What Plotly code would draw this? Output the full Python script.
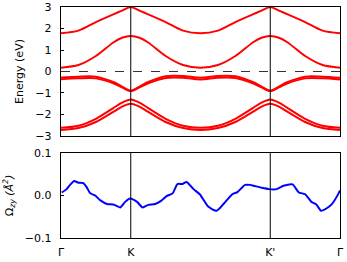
import plotly.graph_objects as go

# ---- data ----
k_band = [0, 0.25, 0.5, 0.75, 0.875, 1, 1.125, 1.25, 1.5, 1.75, 2,
          2.25, 2.5, 2.75, 2.875, 3, 3.125, 3.25, 3.5, 3.75, 4]

band1 = [1.78, 1.9, 2.3, 2.66, 2.83, 3.0, 2.83, 2.66, 2.3, 1.9, 1.78,
         1.9, 2.3, 2.66, 2.83, 3.0, 2.83, 2.66, 2.3, 1.9, 1.78]
band2 = [0.18, 0.3, 0.72, 1.35, 1.57, 1.65, 1.57, 1.35, 0.72, 0.3, 0.18,
         0.3, 0.72, 1.35, 1.57, 1.65, 1.57, 1.35, 0.72, 0.3, 0.18]
band3a = [-0.28, -0.24, -0.24, -0.49, -0.70, -0.89, -0.70, -0.49, -0.22, -0.21, -0.29,
          -0.21, -0.22, -0.49, -0.70, -0.89, -0.70, -0.49, -0.24, -0.24, -0.29]
band3b = [-0.36, -0.32, -0.32, -0.55, -0.74, -0.91, -0.74, -0.55, -0.30, -0.29, -0.37,
          -0.29, -0.30, -0.55, -0.74, -0.91, -0.74, -0.55, -0.32, -0.32, -0.37]
band4 = [-2.62, -2.52, -2.2, -1.7, -1.45, -1.3, -1.45, -1.7, -2.2, -2.52, -2.62,
         -2.52, -2.2, -1.7, -1.45, -1.3, -1.45, -1.7, -2.2, -2.52, -2.62]
band5 = [-2.72, -2.63, -2.35, -1.88, -1.63, -1.5, -1.63, -1.88, -2.35, -2.63, -2.72,
         -2.63, -2.35, -1.88, -1.63, -1.5, -1.63, -1.88, -2.35, -2.63, -2.72]

k_upper = [0.75, 0.875, 1, 1.125, 1.25]
band0 = [3.4, 3.17, 3.0, 3.17, 3.4]
k_upper2 = [2.75, 2.875, 3, 3.125, 3.25]

berry_k = [0.01, 0.08, 0.13, 0.19, 0.25, 0.32, 0.37, 0.42, 0.49, 0.56, 0.66, 0.75,
           0.85, 0.92, 0.99, 1.09, 1.17, 1.25, 1.35, 1.44, 1.52, 1.60, 1.67, 1.74,
           1.80, 1.90, 1.99, 2.11, 2.23, 2.33, 2.46, 2.53, 2.64, 2.71, 2.78, 2.88,
           2.98, 3.09, 3.19, 3.32, 3.41, 3.50, 3.59, 3.66, 3.73, 3.81, 3.88, 3.98, 4.0]
berry_v = [0.007, 0.015, 0.025, 0.034, 0.030, 0.029, 0.019, 0.005, 0.0, -0.011, -0.020, -0.021,
           -0.028, -0.015, -0.007, -0.015, -0.028, -0.022, -0.020, -0.012, -0.001, 0.005, 0.027, 0.027,
           0.032, 0.015, 0.003, -0.026, -0.036, -0.020, 0.0035, 0.008, 0.025, 0.025, 0.022, 0.018,
           0.015, 0.015, 0.023, 0.026, 0.007, 0.003, -0.015, -0.021, -0.036, -0.030, -0.021, 0.005, 0.012]

sym_pos = [0, 1, 3, 4]
sym_lab = ["Γ", "K", "K'", "Γ"]
vline_pos = [1, 3]

RED = "#ff0000"
fig = go.Figure()

for yv in [band1, band2, band3a, band3b, band4, band5]:
    fig.add_trace(go.Scatter(x=k_band, y=yv, mode="lines", line=dict(color=RED, width=2, shape="spline", smoothing=0.8),
                             xaxis="x", yaxis="y", showlegend=False, hoverinfo="skip"))
for kx in [k_upper, k_upper2]:
    fig.add_trace(go.Scatter(x=kx, y=band0, mode="lines", line=dict(color=RED, width=2),
                             xaxis="x", yaxis="y", showlegend=False, hoverinfo="skip"))

fig.add_trace(go.Scatter(x=berry_k, y=berry_v, mode="lines", line=dict(color="#0000ff", width=2, shape="spline", smoothing=0.6),
                         xaxis="x2", yaxis="y2", showlegend=False, hoverinfo="skip"))

shapes = []
for xp in vline_pos:
    for xa, ya in [("x", "y"), ("x2", "y2")]:
        shapes.append(dict(type="line", xref=xa, yref=ya + " domain", x0=xp, x1=xp, y0=0, y1=1,
                           line=dict(color="black", width=1)))
shapes.append(dict(type="line", xref="x domain", yref="y", x0=0, x1=1, y0=0, y1=0,
                   line=dict(color="#333333", width=1, dash="dash")))

axis_common = dict(showline=True, linecolor="black", linewidth=1.3, mirror=True, showgrid=False,
                   zeroline=False, automargin=False)

fig.update_layout(
    width=347, height=262,
    margin=dict(l=61, r=7, t=7, b=24),
    paper_bgcolor="white", plot_bgcolor="white",
    font=dict(family="DejaVu Sans", size=11, color="black"),
    shapes=shapes,
    xaxis=dict(domain=[0, 1], range=[0, 4], anchor="y", showticklabels=False, ticks="", **axis_common),
    yaxis=dict(domain=[0.4416, 1], range=[-3, 3], anchor="x", tickvals=[-3, -2, -1, 0, 1, 2, 3],
               ticks="inside", ticklen=3, tickcolor="black", ticklabelstandoff=6,
               title=dict(text="Energy (eV)", standoff=9, font=dict(size=11)), **axis_common),
    xaxis2=dict(domain=[0, 1], range=[0, 4], anchor="y2", tickvals=sym_pos, ticktext=sym_lab,
                ticks="", ticklabelstandoff=3, **axis_common),
    yaxis2=dict(domain=[0, 0.368], range=[-0.1, 0.1], anchor="x2", tickvals=[-0.1, 0, 0.1], tickformat=".1f",
                ticks="inside", ticklen=3, tickcolor="black", ticklabelstandoff=6,
                title=dict(text="Ω<sub><i>zy</i></sub> <i>(Å</i><sup><i>2</i></sup><i>)</i>", standoff=9, font=dict(size=11)),
                **axis_common),
)

fig.write_html("out.html", config={"displayModeBar": False, "staticPlot": True},
               post_script="document.body.style.margin='0';document.body.style.overflow='hidden';")
